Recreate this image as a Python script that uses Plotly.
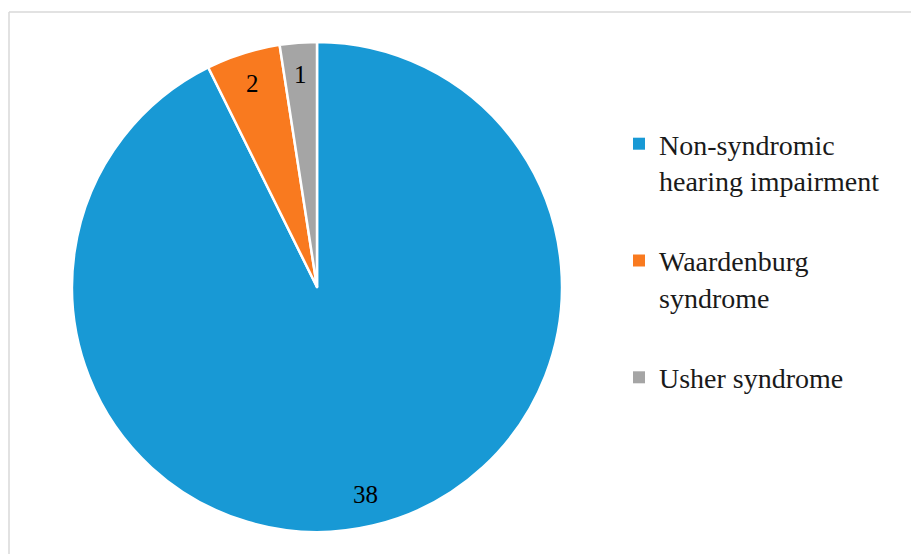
import math
import plotly.graph_objects as go

W, H = 911, 554

categories = ["Non-syndromic<br>hearing impairment", "Waardenburg<br>syndrome", "Usher syndrome"]
values = [38, 2, 1]
colors = ["#1899D5", "#F97A1F", "#A5A5A5"]

FONT = "Liberation Serif"

# pie geometry (pixels)
CX, CY, R = 317, 287, 245
dom_x = [(CX - R) / W, (CX + R) / W]
dom_y = [1 - (CY + R) / H, 1 - (CY - R) / H]

fig = go.Figure()

fig.add_trace(go.Pie(
    labels=categories,
    values=values,
    sort=False,
    direction="clockwise",
    rotation=0,
    marker=dict(colors=colors, line=dict(color="white", width=2.5)),
    textinfo="none",
    showlegend=False,
    hoverinfo="label+value",
    domain=dict(x=dom_x, y=dom_y),
))

# value labels near the outer end of each slice (computed from the values)
total = sum(values)
annotations = []
cum = 0
for v in values:
    mid = (cum + v / 2) / total * 2 * math.pi
    cum += v
    r = 0.87 * R
    px = CX + r * math.sin(mid)
    py = CY - r * math.cos(mid)
    annotations.append(dict(
        x=px / W, y=1 - py / H, xref="paper", yref="paper",
        text=str(v), showarrow=False,
        font=dict(family=FONT, size=25, color="black"),
        xanchor="center", yanchor="middle",
    ))

# legend entries (one per category, separate groups so gaps can be set)
for i, (lab, col) in enumerate(zip(categories, colors)):
    fig.add_trace(go.Scatter(
        x=[None], y=[None], mode="markers", name=lab,
        marker=dict(symbol="square", size=12, color=col),
        legendgroup=f"g{i}", showlegend=True,
    ))

fig.update_layout(
    width=W, height=H,
    margin=dict(l=0, r=0, t=0, b=0),
    paper_bgcolor="white",
    plot_bgcolor="white",
    xaxis=dict(visible=False),
    yaxis=dict(visible=False),
    font=dict(family=FONT, color="#1a1a1a"),
    annotations=annotations,
    legend=dict(
        x=619 / W, xanchor="left",
        y=1 - 119 / H, yanchor="top",
        font=dict(family=FONT, size=28, color="#1a1a1a"),
        valign="top",
        tracegroupgap=41,
        bgcolor="rgba(0,0,0,0)",
        itemclick=False,
    ),
    shapes=[
        dict(type="line", xref="paper", yref="paper",
             x0=9 / W, x1=1, y0=1 - 12 / H, y1=1 - 12 / H,
             line=dict(color="#D9D9D9", width=1.5)),
        dict(type="line", xref="paper", yref="paper",
             x0=9 / W, x1=9 / W, y0=0, y1=1 - 12 / H,
             line=dict(color="#D9D9D9", width=1.5)),
    ],
)

fig.write_html("out.html",
               config={"displayModeBar": False},
               post_script="document.body.style.margin='0';document.body.style.overflow='hidden';")
